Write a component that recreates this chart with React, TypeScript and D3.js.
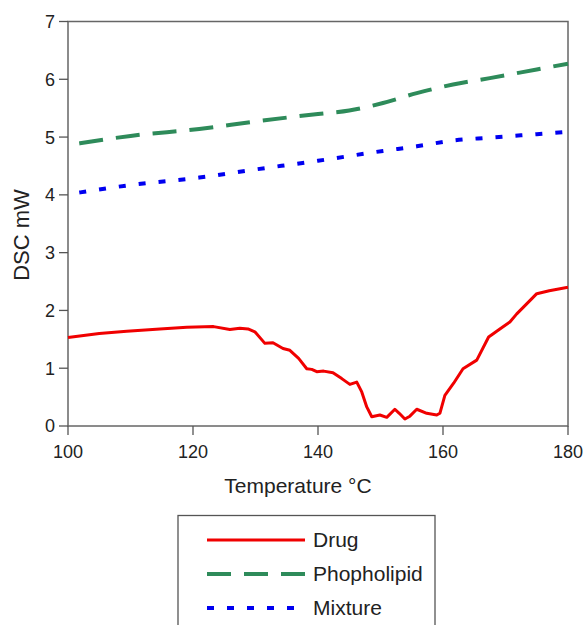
import React from "react";
import * as d3 from "d3";

// temperature (°C) and DSC signal (mW)
const drugTemp = [100, 105, 109.4, 114.7, 119, 123.3, 125.9, 127.5, 128.8, 129.9, 131.5, 132.8, 134.4, 135.5, 136.9, 138.2, 139, 139.8, 140.9, 142.4, 143.8, 145.1, 146.2, 147, 147.8, 148.6, 149.9, 151, 152.3, 153, 153.9, 154.7, 155.8, 157.4, 159, 159.5, 160.3, 161.7, 163.2, 165.4, 167.3, 169.1, 170.7, 171.8, 173.9, 175, 177, 180];
const drugVal = [1.53, 1.6, 1.64, 1.68, 1.71, 1.72, 1.67, 1.69, 1.68, 1.63, 1.43, 1.44, 1.34, 1.31, 1.17, 0.99, 0.98, 0.94, 0.95, 0.92, 0.82, 0.72, 0.76, 0.59, 0.33, 0.16, 0.19, 0.15, 0.29, 0.22, 0.12, 0.17, 0.29, 0.22, 0.19, 0.22, 0.53, 0.74, 0.99, 1.14, 1.54, 1.68, 1.8, 1.94, 2.17, 2.29, 2.34, 2.4];

const phosTemp = [101.8, 110, 121, 130, 140, 145, 150.4, 155.8, 161.6, 167.5, 175, 180];
const phosVal = [4.89, 5.02, 5.14, 5.27, 5.4, 5.46, 5.59, 5.76, 5.91, 6.02, 6.17, 6.27];

const mixTemp = [101.8, 110, 121, 130, 140, 150.4, 155.8, 161.6, 167.5, 175, 180];
const mixVal = [4.04, 4.17, 4.3, 4.44, 4.59, 4.76, 4.84, 4.94, 4.99, 5.05, 5.09];

const xTicks = [100, 120, 140, 160, 180];
const yTicks = [0, 1, 2, 3, 4, 5, 6, 7];
const seriesNames = ["Drug", "Phopholipid", "Mixture"];

const W = 584;
const H = 625;
const FONT = "Arial, 'Liberation Sans', sans-serif";

export default function App() {
  const x = d3.scaleLinear().domain([100, 180]).range([68, 568]);
  const y = d3.scaleLinear().domain([0, 7]).range([426, 21.5]);

  const zip = (xs: number[], vs: number[]) => xs.map((t, i) => ({ t, v: vs[i] }));

  const lineLin = d3.line<{ t: number; v: number }>().x((d) => x(d.t)).y((d) => y(d.v));
  const lineSmooth = d3
    .line<{ t: number; v: number }>()
    .x((d) => x(d.t))
    .y((d) => y(d.v))
    .curve(d3.curveMonotoneX);

  const styles = [
    { color: "#f00000", width: 3, dash: undefined as string | undefined },
    { color: "#2e8b5a", width: 4, dash: "24,13" },
    { color: "#0000f0", width: 4, dash: "7,13" },
  ];

  const [x0, x1] = x.range();
  const [y0, y1] = y.range();

  return (
    <div style={{ position: "absolute", left: 0, top: 0 }}>
      <svg width={W} height={H} style={{ display: "block", background: "#fff" }} fontFamily={FONT}>
        {/* frame */}
        <rect x={x0} y={y1} width={x1 - x0} height={y0 - y1} fill="none" stroke="#666" strokeWidth={1.5} />

        {/* y axis */}
        {yTicks.map((t) => (
          <g key={t} transform={`translate(0,${y(t)})`}>
            <line x1={x0 - 9} x2={x0} stroke="#555" strokeWidth={1.3} />
            <text x={x0 - 13} dy="0.36em" textAnchor="end" fontSize={18} fill="#222">
              {t}
            </text>
          </g>
        ))}

        {/* x axis */}
        {xTicks.map((t) => (
          <g key={t} transform={`translate(${x(t)},0)`}>
            <line y1={y0} y2={y0 + 9} stroke="#555" strokeWidth={1.3} />
            <text y={458} textAnchor="middle" fontSize={18} fill="#222">
              {t}
            </text>
          </g>
        ))}

        <text x={298} y={493} textAnchor="middle" fontSize={21} fill="#222">
          Temperature °C
        </text>
        <text transform="translate(29,235) rotate(-90)" textAnchor="middle" fontSize={22} fill="#222">
          DSC mW
        </text>

        {/* series */}
        <path d={lineSmooth(zip(phosTemp, phosVal)) || ""} fill="none" stroke={styles[1].color} strokeWidth={styles[1].width} strokeDasharray={styles[1].dash} />
        <path d={lineSmooth(zip(mixTemp, mixVal)) || ""} fill="none" stroke={styles[2].color} strokeWidth={styles[2].width} strokeDasharray={styles[2].dash} />
        <path d={lineLin(zip(drugTemp, drugVal)) || ""} fill="none" stroke={styles[0].color} strokeWidth={styles[0].width} strokeLinejoin="round" />

        {/* legend */}
        <rect x={178} y={515.5} width={257} height={130} fill="#fff" stroke="#555" strokeWidth={1.3} />
        {seriesNames.map((name, i) => (
          <g key={name} transform={`translate(0,${540 + i * 34})`}>
            <line x1={207} x2={305} stroke={styles[i].color} strokeWidth={styles[i].width} strokeDasharray={styles[i].dash} />
            <text x={313} dy="0.35em" fontSize={21} fill="#222">
              {name}
            </text>
          </g>
        ))}
      </svg>
    </div>
  );
}
